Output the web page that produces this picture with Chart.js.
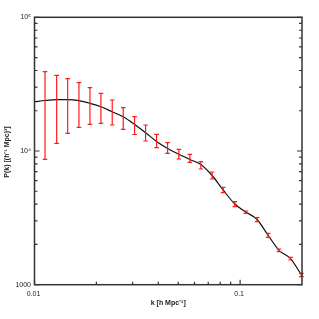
<!DOCTYPE html>
<html>
<head>
<meta charset="utf-8">
<script src="https://cdn.jsdelivr.net/npm/chart.js@4.4.1/dist/chart.umd.min.js"></script>
<style>
  html, body { margin: 0; padding: 0; background: #fff; }
  #wrap { width: 319px; height: 319px; }
</style>
</head>
<body>
<div id="wrap"><canvas id="pkChart" width="319" height="319"></canvas></div>
<script>
// --- Data ---
const kVals = [0.01125, 0.01282, 0.0145, 0.01645, 0.01861, 0.02104, 0.02388, 0.02701,
    0.03068, 0.0347, 0.03924, 0.04438, 0.05036, 0.05696, 0.06442, 0.0731,
    0.08268, 0.09424, 0.1066, 0.1209, 0.1368, 0.1547, 0.1758, 0.1987];
const errLow = [8670, 11420, 13560, 15040, 15840, 16120, 15650, 14530,
    13290, 11880, 10590, 9610, 8710, 8230, 7335, 6175,
    4875, 3831, 3420, 2959, 2262, 1765, 1530, 1148];
const errHigh = [39200, 36840, 34740, 32420, 29750, 27020, 24070, 21080,
    18050, 15650, 13330, 11540, 10300, 9450, 8320, 6965,
    5350, 4177, 3557, 3171, 2424, 1849, 1603, 1217];

// model curve
const curveK = [0.01, 0.01125, 0.01282, 0.0145, 0.01645, 0.01861, 0.02104, 0.02388, 0.02701,
    0.03068, 0.0347, 0.03924, 0.04438, 0.05036, 0.05696, 0.06442, 0.0731,
    0.08268, 0.09424, 0.1066, 0.1209, 0.1368, 0.1547, 0.1758, 0.2];
const curveP = [23370, 23860, 24190, 24190, 23780, 22740, 21450, 19670, 18050,
    15790, 13710, 11780, 10440, 9450, 8640, 7925, 6557,
    5109, 4015, 3497, 3073, 2342, 1808, 1565, 1165];

// axis ticks
const xMajor = [0.01, 0.1];
const xMajorLabels = ['0.01', '0.1'];
const xMinor = [0.02, 0.03, 0.04, 0.05, 0.06, 0.07, 0.08, 0.09];
const yMajor = [1000, 10000, 100000];
const yMajorLabels = ['1000', '10\u2074', '10\u2075'];
const yMinor = [2000, 3000, 4000, 5000, 6000, 7000, 8000, 9000,
    20000, 30000, 40000, 50000, 60000, 70000, 80000, 90000];

const xTitle = 'k [h Mpc\u207B\u00B9]';
const yTitle = 'P(k) [(h\u207B\u00B9 Mpc)\u00B3]';

// --- error bars ---
const errorBars = {
    id: 'errorBars',
    afterDatasetsDraw(chart) {
        const ctx = chart.ctx, xs = chart.scales.x, ys = chart.scales.y;
        ctx.save();
        ctx.strokeStyle = '#ff1a1a';
        ctx.lineWidth = 1.2;
        kVals.forEach(function (k, i) {
            const px = xs.getPixelForValue(k);
            const y1 = ys.getPixelForValue(errHigh[i]);
            const y2 = ys.getPixelForValue(errLow[i]);
            ctx.beginPath();
            ctx.moveTo(px, y1); ctx.lineTo(px, y2);
            ctx.moveTo(px - 2.3, y1); ctx.lineTo(px + 2.3, y1);
            ctx.moveTo(px - 2.3, y2); ctx.lineTo(px + 2.3, y2);
            ctx.stroke();
        });
        ctx.restore();
    }
};

// --- frame, inward ticks, labels ---
const frame = {
    id: 'frame',
    afterDraw(chart) {
        const ctx = chart.ctx, a = chart.chartArea;
        const xs = chart.scales.x, ys = chart.scales.y;
        ctx.save();
        ctx.strokeStyle = '#333';
        ctx.lineWidth = 1.5;
        ctx.strokeRect(a.left, a.top, a.right - a.left, a.bottom - a.top);

        ctx.lineWidth = 1.2;
        ctx.beginPath();
        xMajor.forEach(v => { const p = xs.getPixelForValue(v); ctx.moveTo(p, a.bottom); ctx.lineTo(p, a.bottom - 5); });
        xMinor.forEach(v => { const p = xs.getPixelForValue(v); ctx.moveTo(p, a.bottom); ctx.lineTo(p, a.bottom - 3); });
        yMajor.forEach(v => {
            const p = ys.getPixelForValue(v);
            ctx.moveTo(a.left, p); ctx.lineTo(a.left + 5, p);
            ctx.moveTo(a.right, p); ctx.lineTo(a.right - 5, p);
        });
        yMinor.forEach(v => {
            const p = ys.getPixelForValue(v);
            ctx.moveTo(a.left, p); ctx.lineTo(a.left + 3, p);
            ctx.moveTo(a.right, p); ctx.lineTo(a.right - 3, p);
        });
        ctx.stroke();

        ctx.fillStyle = '#222';
        ctx.font = '7px "Liberation Sans", Arial, sans-serif';
        ctx.textAlign = 'right';
        ctx.textBaseline = 'middle';
        yMajor.forEach((v, i) => ctx.fillText(yMajorLabels[i], a.left - 3.5, ys.getPixelForValue(v)));
        ctx.textAlign = 'center';
        ctx.textBaseline = 'top';
        xMajor.forEach((v, i) => ctx.fillText(xMajorLabels[i], xs.getPixelForValue(v) - 1, a.bottom + 6));

        ctx.font = 'bold 7px "Liberation Sans", Arial, sans-serif';
        ctx.textBaseline = 'middle';
        ctx.fillText(xTitle, (a.left + a.right) / 2, a.bottom + 18.5);
        ctx.translate(7.5, (a.top + a.bottom) / 2 + 1);
        ctx.rotate(-Math.PI / 2);
        ctx.fillText(yTitle, 0, 0);
        ctx.restore();
    }
};

new Chart(document.getElementById('pkChart'), {
    type: 'line',
    data: {
        datasets: [{
            data: curveK.map((k, i) => ({ x: k, y: curveP[i] })),
            borderColor: '#111',
            borderWidth: 1.2,
            pointRadius: 0,
            fill: false,
            cubicInterpolationMode: 'monotone'
        }]
    },
    options: {
        responsive: false,
        animation: false,
        layout: { padding: { left: 34.5, top: 17.3, right: 17, bottom: 34.3 } },
        plugins: { legend: { display: false }, tooltip: { enabled: false } },
        scales: {
            x: { type: 'logarithmic', min: 0.01, max: 0.2, display: false },
            y: { type: 'logarithmic', min: 1000, max: 100000, display: false }
        }
    },
    plugins: [errorBars, frame]
});
</script>
</body>
</html>
